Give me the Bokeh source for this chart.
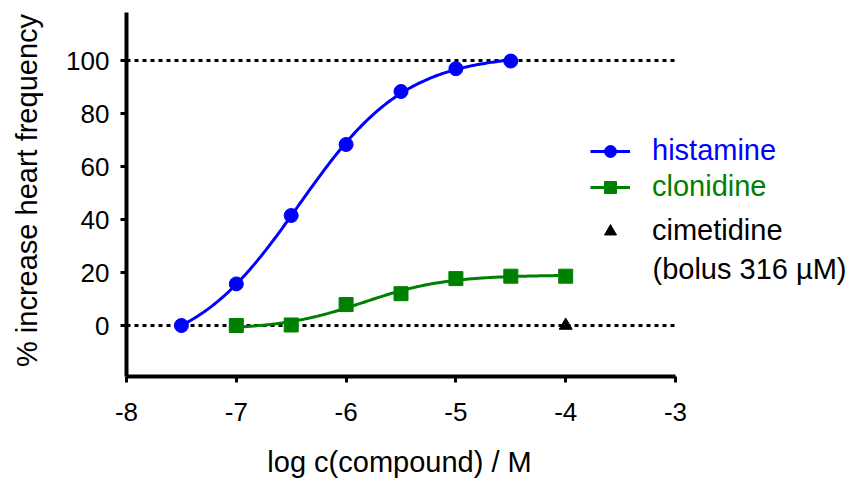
import math
import numpy as np
from bokeh.plotting import figure
from bokeh.models import Legend, LegendItem, Label, FixedTicker
from bokeh.embed import file_html
from bokeh.resources import INLINE

# ---- data ----
hist_logc = [-7.5, -7.0, -6.5, -6.0, -5.5, -5.0, -4.5]
hist_resp = [0.0, 15.7, 41.5, 68.3, 88.3, 96.9, 99.8]

clon_logc = [-7.0, -6.5, -6.0, -5.5, -5.0, -4.5, -4.0]
clon_resp = [0.0, 0.2, 7.9, 12.0, 17.7, 18.6, 18.6]

cime_logc = [-4.0]
cime_resp = [0.0]

x_ticks = [-8, -7, -6, -5, -4, -3]
y_ticks = [0, 20, 40, 60, 80, 100]
ref_levels = [0, 100]
x_bounds = (-8, -3)
y_bounds = (-19.25, 118.1)

FONT = "Liberation Sans"
BLUE = "#0000FF"
GREEN = "#008000"

W, H = 853, 478
PX_X = 109.8   # pixels per log unit
PX_Y = 2.65    # pixels per % unit


def fit_4pl(x, y):
    """Least-squares four-parameter logistic fit (grid over EC50/slope,
    exact linear solve for bottom/top)."""
    x = np.asarray(x, float)
    y = np.asarray(y, float)
    c = np.linspace(-8.0, -4.0, 401)[:, None, None]
    h = np.linspace(0.4, 3.0, 261)[None, :, None]
    s = 1.0 / (1.0 + 10 ** ((c - x) * h))
    u = 1.0 - s
    a = (u * u).sum(-1)
    b = (u * s).sum(-1)
    d = (s * s).sum(-1)
    r1 = (u * y).sum(-1)
    r2 = (s * y).sum(-1)
    det = a * d - b * b
    bot = (d * r1 - b * r2) / det
    top = (a * r2 - b * r1) / det
    pred = bot[..., None] * u + top[..., None] * s
    sse = ((pred - y) ** 2).sum(-1)
    i, j = np.unravel_index(np.argmin(sse), sse.shape)
    return bot[i, j], top[i, j], c[i, 0, 0], h[0, j, 0]


def curve(params, x0, x1):
    bot, top, c, h = params
    xs = np.linspace(x0, x1, 200)
    return xs, bot + (top - bot) / (1.0 + 10 ** ((c - xs) * h))


hx, hy = curve(fit_4pl(hist_logc, hist_resp), min(hist_logc), max(hist_logc))
cx, cy = curve(fit_4pl(clon_logc, clon_resp), min(clon_logc), max(clon_logc))

# the frame covers the whole canvas; axes are pinned at fixed locations
x0 = x_bounds[0] - 126 / PX_X
y1 = 325 / PX_Y
p = figure(width=W, height=H,
           x_range=(x0, x0 + W / PX_X), y_range=(y1 - H / PX_Y, y1),
           output_backend="svg", toolbar_location=None,
           min_border_left=0, min_border_right=0,
           min_border_top=0, min_border_bottom=0)
p.outline_line_color = None
p.grid.visible = False
p.background_fill_color = "white"

for lvl in ref_levels:
    p.line([x_ticks[0], x_ticks[-1]], [lvl, lvl], line_color="black",
           line_width=3, line_dash="4 4")

h_line = p.line(hx, hy, line_color=BLUE, line_width=3)
h_pts = p.scatter(hist_logc, hist_resp, marker="circle", size=14,
                  fill_color=BLUE, line_color=BLUE)
c_line = p.line(cx, cy, line_color=GREEN, line_width=3)
c_pts = p.scatter(clon_logc, clon_resp, marker="square", size=14,
                  fill_color=GREEN, line_color=GREEN)
t_pts = p.scatter(cime_logc, cime_resp, marker="triangle", size=13,
                  fill_color="black", line_color="black")

for ax in (p.xaxis[0], p.yaxis[0]):
    ax.axis_line_width = 4
    ax.major_tick_line_width = 3
    ax.major_tick_out = 6
    ax.major_tick_in = 0
    ax.minor_tick_line_color = None
    ax.major_label_text_font = FONT
    ax.major_label_text_font_size = "26px"
    ax.major_label_text_color = "black"

p.xaxis.fixed_location = y_bounds[0]
p.yaxis.fixed_location = x_bounds[0]
p.xaxis.bounds = x_bounds
p.yaxis.bounds = y_bounds
p.xaxis.ticker = FixedTicker(ticks=x_ticks)
p.yaxis.ticker = FixedTicker(ticks=y_ticks)
p.xaxis.major_label_overrides = {t: str(t) for t in x_ticks}
p.xaxis.major_label_standoff = 20
p.yaxis.major_label_standoff = 11

# axis titles (screen px from the canvas' bottom-left corner)
p.add_layout(Label(x=399, y=H - 461, x_units="screen", y_units="screen",
                   text="log c(compound) / M", text_font=FONT,
                   text_font_size="29px", text_color="black",
                   text_align="center", text_baseline="middle"))
p.add_layout(Label(x=26, y=H - 190, x_units="screen", y_units="screen",
                   text="% increase heart frequency", text_font=FONT,
                   text_font_size="29px", text_color="black", angle=math.pi / 2,
                   text_align="center", text_baseline="middle"))


def make_legend(item, color, center_y):
    lg = Legend(items=[item], location=(590, H - center_y - 15),
                orientation="vertical",
                label_text_font=FONT, label_text_font_size="29px",
                label_text_color=color, glyph_width=40, glyph_height=30,
                label_height=30, label_standoff=22, padding=0, margin=0,
                spacing=0, border_line_alpha=0, background_fill_alpha=0)
    p.add_layout(lg, "center")
    return lg


make_legend(LegendItem(label="histamine", renderers=[h_line, h_pts]), BLUE, 152)
make_legend(LegendItem(label="clonidine", renderers=[c_line, c_pts]), GREEN, 188)
make_legend(LegendItem(label="cimetidine", renderers=[t_pts]), "black", 232)

p.add_layout(Label(x=652, y=H - 268, x_units="screen", y_units="screen",
                   text="(bolus 316 µM)", text_font=FONT, text_font_size="29px",
                   text_color="black", text_baseline="middle"))

open("out.html", "w").write(file_html(p, INLINE))
